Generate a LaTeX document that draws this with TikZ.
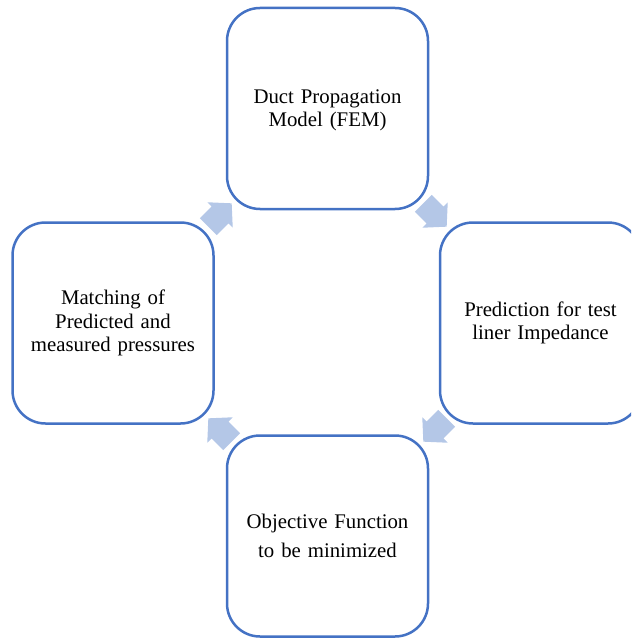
\documentclass[tikz,border=0pt]{standalone}
\usepackage{fontspec}
\setmainfont{Liberation Serif}
\definecolor{boxblue}{HTML}{4472C4}
\definecolor{arrowblue}{HTML}{B4C7E7}
\begin{document}
\begin{tikzpicture}[x=1pt,y=-1pt,
  stagebox/.style={draw=boxblue, line width=2.5pt, rounded corners=33pt,
    minimum width=201pt, minimum height=201pt, inner sep=0pt, align=center,
    text width=195pt, font=\fontsize{20.8}{23.5}\selectfont},
  cyclearrow/.style={fill=arrowblue, draw=none}]
\useasboundingbox (0,0) rectangle (631,639);
\clip (0,0) rectangle (631,639);
\node[stagebox] (model) at (327.5,108.5) {\\[-6pt]Duct Propagation\\Model (FEM)};
\node[stagebox] (predict) at (540.5,323) {Prediction for test\\liner Impedance};
\node[stagebox] (objective) at (327.5,536) {Objective Function\\[5pt]to be minimized};
\node[stagebox] (matching) at (113,323) {Matching of\\Predicted and\\measured pressures};
\fill[cyclearrow, shift={(220,215)}, rotate=45]
  (-16.5,-12) -- (0,-12) -- (0,-18) -- (16.5,0) -- (0,18) -- (0,12) -- (-16.5,12) -- cycle;
\fill[cyclearrow, shift={(435,215)}, rotate=-45]
  (-16.5,-12) -- (0,-12) -- (0,-18) -- (16.5,0) -- (0,18) -- (0,12) -- (-16.5,12) -- cycle;
\fill[cyclearrow, shift={(435,430)}, rotate=-135]
  (-16.5,-12) -- (0,-12) -- (0,-18) -- (16.5,0) -- (0,18) -- (0,12) -- (-16.5,12) -- cycle;
\fill[cyclearrow, shift={(220,430)}, rotate=135]
  (-16.5,-12) -- (0,-12) -- (0,-18) -- (16.5,0) -- (0,18) -- (0,12) -- (-16.5,12) -- cycle;
\end{tikzpicture}
\end{document}
